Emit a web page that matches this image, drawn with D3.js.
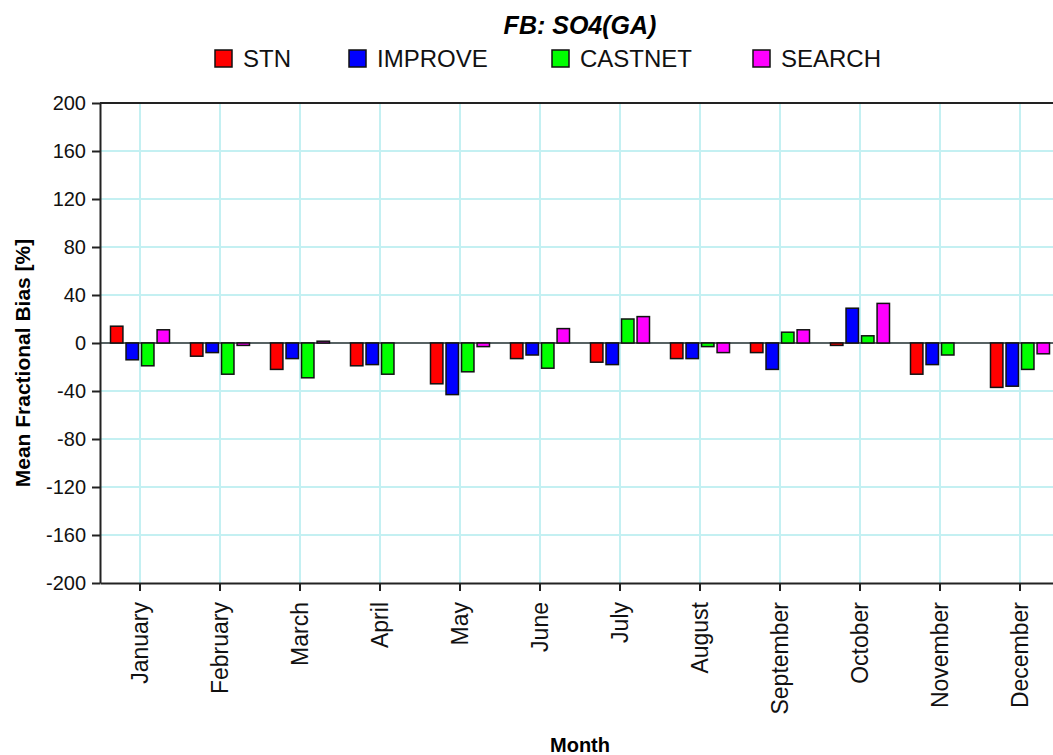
<!DOCTYPE html>
<html>
<head>
<meta charset="utf-8">
<script src="https://cdn.jsdelivr.net/npm/d3@7"></script>
<style>
  body { margin: 0; background: #fff; }
  svg { display: block; font-family: "Liberation Sans", Arial, sans-serif; }
</style>
</head>
<body>
<div id="chart"></div>
<script>
const months = ['January', 'February', 'March', 'April', 'May', 'June', 'July',
    'August', 'September', 'October', 'November', 'December'];
const seriesNames = ['STN', 'IMPROVE', 'CASTNET', 'SEARCH'];
const seriesColors = ['#ff0000', '#0000ff', '#00ff00', '#ff00ff'];
const stn     = [14, -11, -22, -19, -34, -13, -16, -13, -8, -2, -26, -37];
const improve = [-14, -8, -13, -18, -43, -10, -18, -13, -22, 29, -18, -36];
const castnet = [-19, -26, -29, -26, -24, -21, 20, -3, 9, 6, -10, -22];
const search  = [11, -2, 1.5, 0, -3, 12, 22, -8, 11, 33, 0, -9];
const yTicks = [-200, -160, -120, -80, -40, 0, 40, 80, 120, 160, 200];

const seriesValues = [stn, improve, castnet, search];
const data = months.map((m, i) => ({
    month: m,
    values: seriesNames.map((s, j) => ({series: s, value: seriesValues[j][i]}))
}));

const W = 1053, H = 755;
const margin = {top: 103, left: 100};
const plotW = 960, plotH = 480;

const svg = d3.select('#chart').append('svg')
    .attr('width', W)
    .attr('height', H);

const g = svg.append('g')
    .attr('transform', `translate(${margin.left},${margin.top})`);

const x0 = d3.scaleBand()
    .domain(months)
    .range([0, plotW])
    .paddingInner(0.2625)
    .paddingOuter(0.13125);

const x1 = d3.scaleBand()
    .domain(seriesNames)
    .range([0, x0.bandwidth()])
    .paddingInner(0.2);

const y = d3.scaleLinear().domain([-200, 200]).range([plotH, 0]);
const color = d3.scaleOrdinal().domain(seriesNames).range(seriesColors);

// grid
const gridColor = '#c4f0f2';
g.append('g').selectAll('line')
    .data(yTicks.slice(1, -1))
    .enter().append('line')
    .attr('x1', 0).attr('x2', plotW)
    .attr('y1', d => y(d)).attr('y2', d => y(d))
    .attr('stroke', gridColor).attr('stroke-width', 2);
g.append('g').selectAll('line')
    .data(months)
    .enter().append('line')
    .attr('x1', d => x0(d) + x0.bandwidth() / 2)
    .attr('x2', d => x0(d) + x0.bandwidth() / 2)
    .attr('y1', 0).attr('y2', plotH)
    .attr('stroke', gridColor).attr('stroke-width', 2);

// zero line
g.append('line')
    .attr('x1', 0).attr('x2', plotW)
    .attr('y1', y(0)).attr('y2', y(0))
    .attr('stroke', '#333').attr('stroke-width', 1.5);

// bars
g.append('g').selectAll('g')
    .data(data)
    .enter().append('g')
    .attr('transform', d => `translate(${x0(d.month)},0)`)
    .selectAll('rect')
    .data(d => d.values.filter(v => v.value !== 0))
    .enter().append('rect')
    .attr('x', d => x1(d.series))
    .attr('width', x1.bandwidth())
    .attr('y', d => y(Math.max(0, d.value)))
    .attr('height', d => Math.abs(y(d.value) - y(0)))
    .attr('fill', d => color(d.series))
    .attr('stroke', '#111')
    .attr('stroke-width', 1.5);

// axes
const yAxis = g.append('g')
    .call(d3.axisLeft(y).tickValues(yTicks).tickFormat(d => String(d))
        .tickSize(8).tickSizeOuter(0).tickPadding(6));
const xAxis = g.append('g')
    .attr('transform', `translate(0,${plotH})`)
    .call(d3.axisBottom(x0).tickSize(8).tickSizeOuter(0).tickPadding(8));

[yAxis, xAxis].forEach(a => {
    a.select('.domain').attr('stroke', '#222').attr('stroke-width', 2);
    a.selectAll('.tick line').attr('stroke', '#222').attr('stroke-width', 2);
    a.selectAll('text').attr('fill', '#111').style('font-family', '"Liberation Sans", Arial, sans-serif');
});
yAxis.selectAll('text').style('font-size', '20px');
xAxis.selectAll('text')
    .style('font-size', '23px')
    .attr('text-anchor', 'end')
    .attr('transform', 'rotate(-90)')
    .attr('x', -19)
    .attr('y', 0)
    .attr('dy', '0.35em');

// top border
g.append('line')
    .attr('x1', 0).attr('x2', plotW)
    .attr('y1', 0).attr('y2', 0)
    .attr('stroke', '#222').attr('stroke-width', 2);

// title
svg.append('text')
    .attr('x', 580).attr('y', 34)
    .attr('text-anchor', 'middle')
    .style('font-size', '25px')
    .style('font-weight', 'bold')
    .style('font-style', 'italic')
    .text('FB: SO4(GA)');

// legend
const legendX = [215, 349, 552, 753];
const legend = svg.append('g').selectAll('g')
    .data(seriesNames)
    .enter().append('g')
    .attr('transform', (d, i) => `translate(${legendX[i]},50)`);
legend.append('rect')
    .attr('width', 17).attr('height', 17)
    .attr('fill', d => color(d))
    .attr('stroke', '#111').attr('stroke-width', 1.5);
legend.append('text')
    .attr('x', 28).attr('y', 17)
    .style('font-size', '24px')
    .attr('fill', '#111')
    .text(d => d);

// axis titles
svg.append('text')
    .attr('text-anchor', 'middle')
    .attr('x', 580).attr('y', 752)
    .style('font-size', '20px')
    .style('font-weight', 'bold')
    .text('Month');

svg.append('text')
    .attr('text-anchor', 'middle')
    .attr('transform', 'rotate(-90)')
    .attr('x', -363).attr('y', 30)
    .style('font-size', '21px')
    .style('font-weight', 'bold')
    .text('Mean Fractional Bias [%]');
</script>
</body>
</html>
